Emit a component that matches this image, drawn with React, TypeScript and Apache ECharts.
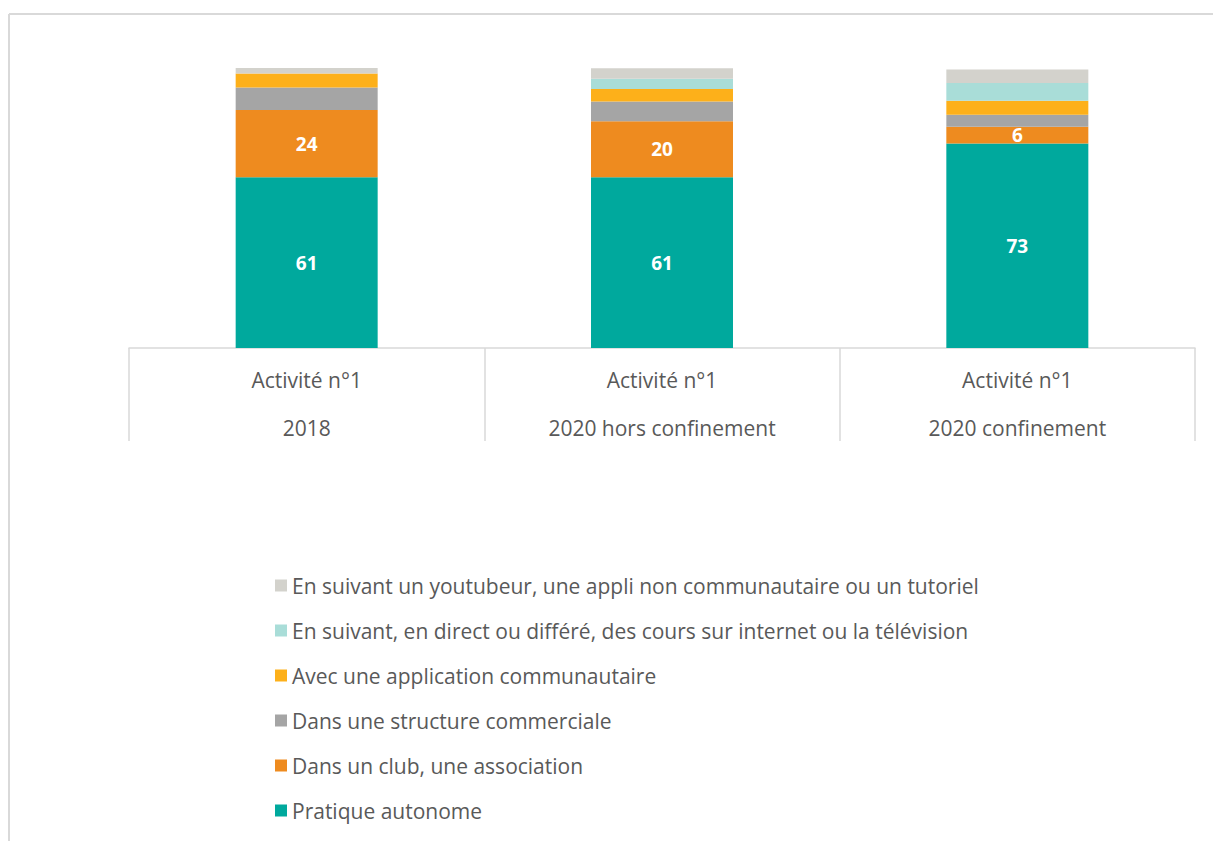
import React, { useEffect, useRef } from "react";
import * as echarts from "echarts";

const categories = [
  "Activité n°1\n2018",
  "Activité n°1\n2020 hors confinement",
  "Activité n°1\n2020 confinement",
];

const seriesNames = [
  "Pratique autonome",
  "Dans un club, une association",
  "Dans une structure commerciale",
  "Avec une application communautaire",
  "En suivant, en direct ou différé, des cours sur internet ou la télévision",
  "En suivant un youtubeur, une appli non communautaire ou un tutoriel",
];

const pratiqueAutonome = [61, 61, 73];
const club = [24, 20, 6];
const structureCommerciale = [8, 7, 4.3];
const applicationCommunautaire = [5, 4.5, 5];
const coursInternet = [0, 3.7, 6.3];
const youtubeur = [2, 3.7, 4.9];

const seriesValues = [
  pratiqueAutonome,
  club,
  structureCommerciale,
  applicationCommunautaire,
  coursInternet,
  youtubeur,
];

const colors = ["#00A99D", "#EE8B1F", "#A5A5A5", "#FDB01A", "#A9DDD8", "#D3D2CC"];
const labeled = [true, true, false, false, false, false];

const FONT = "'Open Sans', Lato, sans-serif";

export default function App() {
  const ref = useRef<HTMLDivElement>(null);
  useEffect(() => {
    if (!ref.current) return;
    const chart = echarts.init(ref.current, undefined, { renderer: "svg" });
    chart.setOption({
      animation: false,
      backgroundColor: "#ffffff",
      grid: { left: 121, top: 60, width: 1066, height: 280 },
      xAxis: {
        type: "category",
        data: categories,
        boundaryGap: true,
        axisLine: { show: true, lineStyle: { color: "#D9D9D9", width: 1.5 } },
        axisTick: { show: true, length: 93, lineStyle: { color: "#D9D9D9", width: 1.5 } },
        axisLabel: {
          color: "#595959",
          fontFamily: FONT,
          fontSize: 21,
          lineHeight: 48,
          margin: 8,
          interval: 0,
        },
      },
      yAxis: { type: "value", min: 0, max: 100, show: false },
      legend: {
        orient: "vertical",
        left: 262,
        top: 562,
        itemWidth: 12,
        itemHeight: 12,
        itemGap: 24,
        icon: "rect",
        data: seriesNames.slice().reverse(),
        textStyle: { color: "#595959", fontFamily: FONT, fontSize: 21, lineHeight: 21 },
      },
      series: seriesNames.map((name, i) => ({
        name,
        type: "bar",
        stack: "total",
        barWidth: 142,
        data: seriesValues[i],
        itemStyle: { color: colors[i] },
        label: {
          show: labeled[i],
          position: "inside",
          color: "#ffffff",
          fontFamily: FONT,
          fontWeight: "bold",
          fontSize: 19,
        },
      })),
      graphic: [
        {
          type: "line",
          shape: { x1: 1, y1: 6, x2: 1213, y2: 6 },
          style: { stroke: "#D9D9D9", lineWidth: 2 },
        },
        {
          type: "line",
          shape: { x1: 1, y1: 6, x2: 1, y2: 833 },
          style: { stroke: "#D9D9D9", lineWidth: 2 },
        },
      ],
    });
    return () => chart.dispose();
  }, []);
  return <div ref={ref} style={{ width: 1213, height: 833 }} />;
}
